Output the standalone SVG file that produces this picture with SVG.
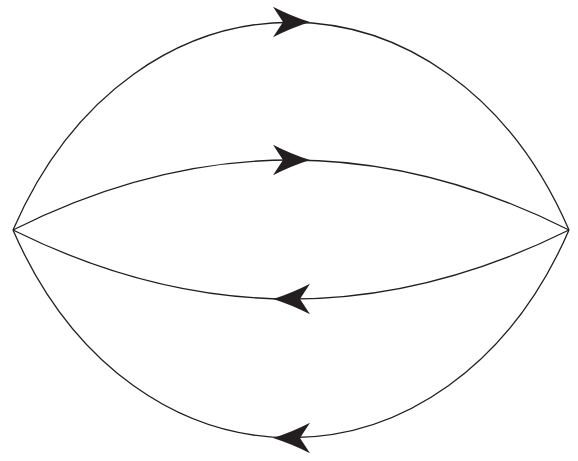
<svg xmlns="http://www.w3.org/2000/svg" xmlns:xlink="http://www.w3.org/1999/xlink" width="578" height="461" viewBox="0 0 578 461">
  <style>
    .edge { fill: none; stroke: #231f20; stroke-width: 1.3; }
    .head { fill: #231f20; stroke: none; }
  </style>
  <defs>
    <path id="ah" d="M0,0 Q-19,-6 -37,-15.3 L-27,0 L-37,15.3 Q-19,6 0,0 Z"/>
  </defs>
  <rect width="578" height="461" fill="#ffffff"/>
  <g id="connectors">
    <g id="edge-outer-top">
      <path class="edge" d="M13,230 C133,-47 449,-47 569,230"/>
      <use class="head" xlink:href="#ah" href="#ah" transform="translate(310,22)"/>
    </g>
    <g id="edge-inner-top">
      <path class="edge" d="M13,230 Q291,90 569,230"/>
      <use class="head" xlink:href="#ah" href="#ah" transform="translate(310,160)"/>
    </g>
    <g id="edge-inner-bottom">
      <path class="edge" d="M13,230 Q291,368 569,230"/>
      <use class="head" xlink:href="#ah" href="#ah" transform="translate(273,299) rotate(180)"/>
    </g>
    <g id="edge-outer-bottom">
      <path class="edge" d="M13,230 C133,507 449,507 569,230"/>
      <use class="head" xlink:href="#ah" href="#ah" transform="translate(273,438) rotate(180)"/>
    </g>
  </g>
</svg>
